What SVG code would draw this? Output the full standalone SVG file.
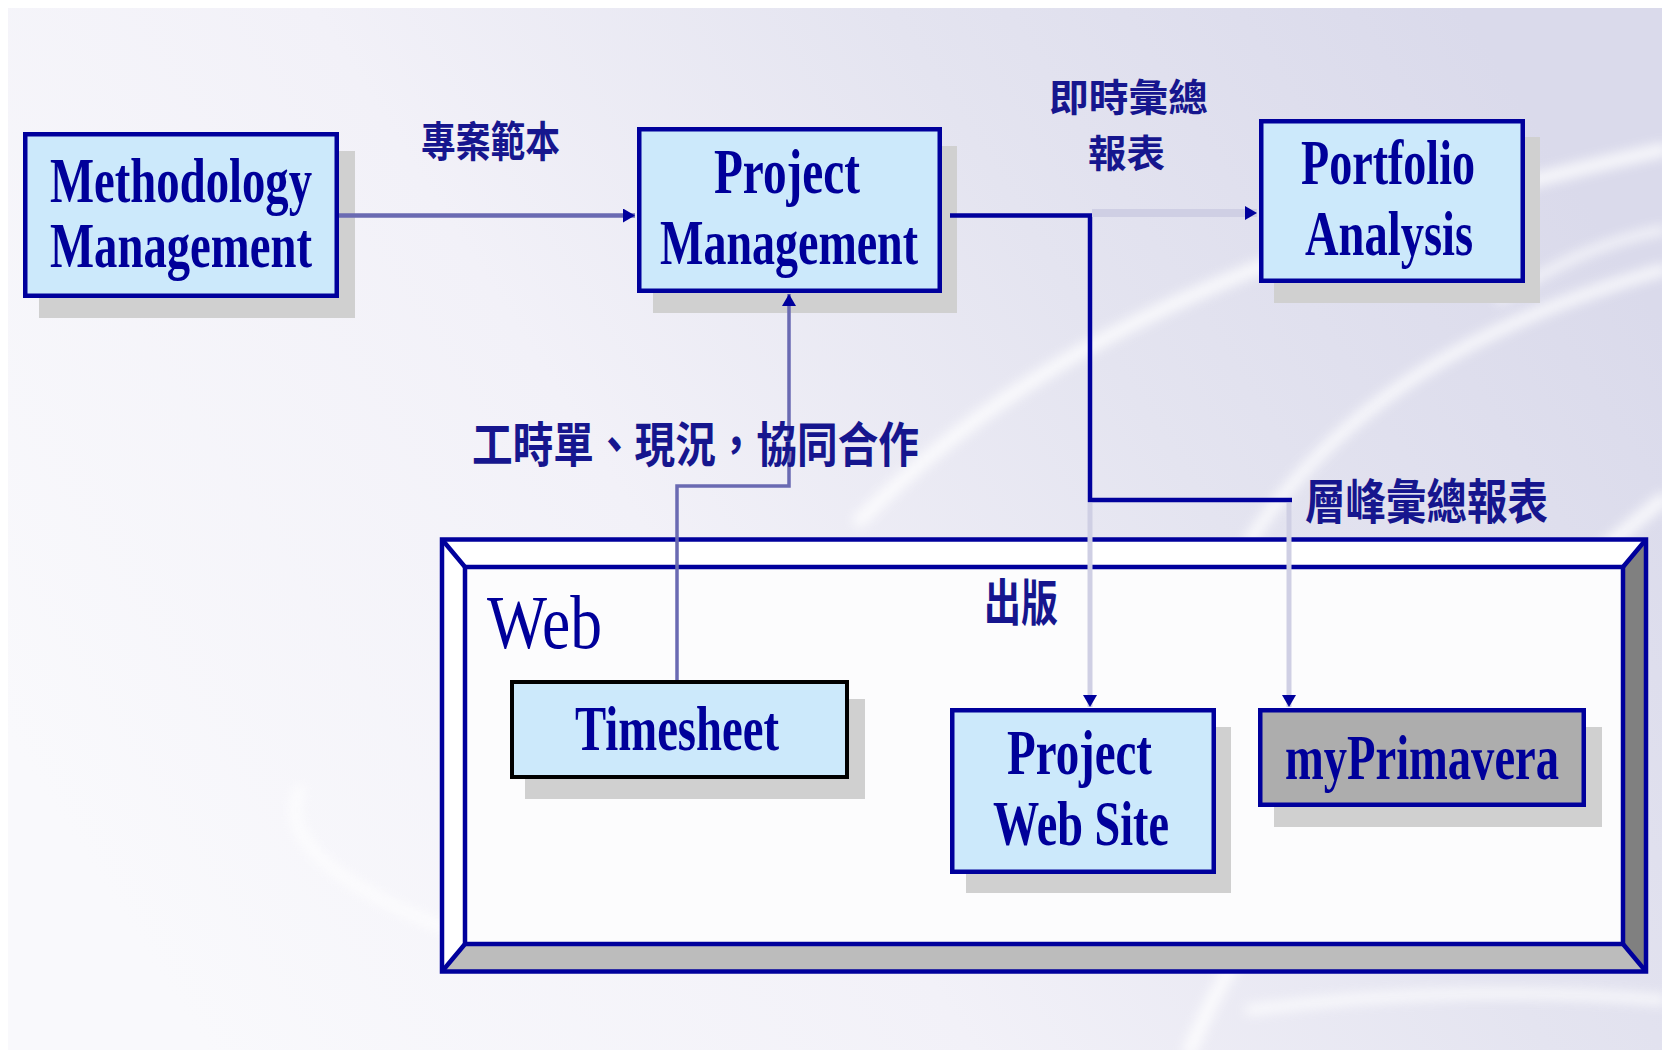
<svg xmlns="http://www.w3.org/2000/svg" width="1662" height="1050" viewBox="0 0 1662 1050">
<defs>
<linearGradient id="bg" x1="0" y1="0.7" x2="1" y2="0.3">
<stop offset="0" stop-color="#f9f9fc"/>
<stop offset="0.4" stop-color="#f2f1f8"/>
<stop offset="0.7" stop-color="#e4e4f0"/>
<stop offset="1" stop-color="#dadaeb"/>
</linearGradient>
<filter id="blur" x="-20%" y="-20%" width="140%" height="140%"><feGaussianBlur stdDeviation="6"/></filter>
<marker id="ah" viewBox="0 0 12 14" refX="12" refY="7" markerWidth="12" markerHeight="14" markerUnits="userSpaceOnUse" orient="auto">
<path d="M0,0 L12,7 L0,14 Z" fill="#00009c"/>
</marker>
<style>
.shadow{fill:#d0d0d0}
.box{fill:#cce9fb;stroke:#00009c;stroke-width:4.5}
.lbl{font-family:"Liberation Serif","Times New Roman",serif;font-weight:bold;font-size:63px;fill:#00009a}
.cjk{font-family:"Noto Sans CJK TC","Noto Sans CJK SC",sans-serif;font-weight:bold;fill:#16168e;dominant-baseline:central}
.dark{fill:none;stroke:#00009c;stroke-width:4.5}
.mid{fill:none;stroke:#6a6ab2}
.light{fill:none;stroke:#cfcfe4}
.frame{fill:none;stroke:#00009c;stroke-width:4.5}
.swoosh{fill:none;stroke:#ffffff;stroke-linecap:round}
</style>
</defs>

<g id="background">
<rect x="0" y="0" width="1662" height="1050" fill="#ffffff"/>
<rect x="8" y="8" width="1654" height="1042" fill="url(#bg)"/>
<g filter="url(#blur)" opacity="0.8">
<path class="swoosh" d="M860,520 C1000,380 1200,250 1662,150" stroke-width="14"/>
<path class="swoosh" d="M1250,540 C1330,420 1450,330 1662,270" stroke-width="12"/>
<path class="swoosh" d="M1190,1050 C1260,880 1420,700 1662,500" stroke-width="14"/>
<path class="swoosh" d="M1500,300 C1560,260 1610,240 1662,230" stroke-width="8"/>
<path class="swoosh" d="M1250,1010 C1400,990 1550,990 1662,1000" stroke-width="10"/>
<path class="swoosh" d="M300,790 C280,830 320,880 450,930" stroke-width="10"/>
</g>
</g>

<g id="web-frame">
<rect x="465" y="567" width="1158" height="377" fill="#fcfcfd"/>
<polygon points="442,539.5 1646,539.5 1623,567 465,567" fill="#ffffff"/>
<polygon points="442,539.5 465,567 465,944 442,971.5" fill="#ffffff"/>
<polygon points="1646,539.5 1646,971.5 1623,944 1623,567" fill="#808080"/>
<polygon points="442,971.5 1646,971.5 1623,944 465,944" fill="#bcbcbc"/>
<rect class="frame" x="442" y="539.5" width="1204" height="432"/>
<rect class="frame" x="465" y="567" width="1158" height="377"/>
<path class="frame" d="M442,539.5 L465,567 M1646,539.5 L1623,567 M442,971.5 L465,944 M1646,971.5 L1623,944"/>
<text x="487" y="648" font-family="Liberation Serif, Times New Roman, serif" font-size="76" fill="#00009a" textLength="115" lengthAdjust="spacingAndGlyphs">Web</text>
</g>

<g id="methodology-management">
<rect class="shadow" x="39" y="151" width="316" height="167"/>
<rect class="box" x="25.25" y="134.25" width="311.5" height="161.5"/>
<text class="lbl" x="50" y="202" textLength="262" lengthAdjust="spacingAndGlyphs">Methodology</text>
<text class="lbl" x="50" y="267" textLength="262" lengthAdjust="spacingAndGlyphs">Management</text>
</g>

<g id="project-management">
<rect class="shadow" x="653" y="146" width="304" height="167"/>
<rect class="box" x="639.25" y="129.25" width="300.5" height="161.5"/>
<text class="lbl" x="714" y="193" textLength="146" lengthAdjust="spacingAndGlyphs">Project</text>
<text class="lbl" x="660" y="264" textLength="258" lengthAdjust="spacingAndGlyphs">Management</text>
</g>

<g id="portfolio-analysis">
<rect class="shadow" x="1274" y="137" width="266" height="166"/>
<rect class="box" x="1261.25" y="121.25" width="261.5" height="159.5"/>
<text class="lbl" x="1301" y="184" textLength="174" lengthAdjust="spacingAndGlyphs">Portfolio</text>
<text class="lbl" x="1305" y="255" textLength="168" lengthAdjust="spacingAndGlyphs">Analysis</text>
</g>

<g id="timesheet">
<rect class="shadow" x="525" y="699" width="340" height="100"/>
<rect x="512" y="682" width="335" height="95" fill="#cce9fb" stroke="#000000" stroke-width="4"/>
<text class="lbl" x="575" y="750" textLength="204" lengthAdjust="spacingAndGlyphs">Timesheet</text>
</g>

<g id="project-web-site">
<rect class="shadow" x="966" y="727" width="265" height="166"/>
<rect class="box" x="952.25" y="710.25" width="261.5" height="161.5"/>
<text class="lbl" x="1007" y="774" textLength="145" lengthAdjust="spacingAndGlyphs">Project</text>
<text class="lbl" x="993" y="845" textLength="176" lengthAdjust="spacingAndGlyphs">Web Site</text>
</g>

<g id="myprimavera">
<rect class="shadow" x="1274" y="727" width="328" height="100"/>
<rect x="1260.25" y="710.25" width="323.5" height="94.5" fill="#adadad" stroke="#00009c" stroke-width="4.5"/>
<text class="lbl" x="1285" y="779" textLength="274" lengthAdjust="spacingAndGlyphs">myPrimavera</text>
</g>

<g id="connectors">
<line class="mid" x1="339" y1="215.5" x2="635" y2="215.5" stroke-width="4.5" marker-end="url(#ah)"/>
<polyline class="dark" points="950,215.5 1090,215.5 1090,500 1292,500"/>
<line class="light" x1="1092" y1="213" x2="1257" y2="213" stroke-width="8" marker-end="url(#ah)"/>
<line class="light" x1="1090" y1="503" x2="1090" y2="707" stroke-width="5" marker-end="url(#ah)"/>
<line class="light" x1="1289" y1="503" x2="1289" y2="707" stroke-width="5" marker-end="url(#ah)"/>
<polyline class="mid" points="677,680 677,486 789,486 789,294" stroke-width="3.5" marker-end="url(#ah)"/>
</g>

<g id="labels">
<text class="cjk" x="421" y="138" font-size="42" textLength="139" lengthAdjust="spacingAndGlyphs">專案範本</text>
<text class="cjk" font-size="38"><tspan x="1049" y="94" textLength="159" lengthAdjust="spacingAndGlyphs">即時彙總</tspan><tspan x="1088" y="150" textLength="77" lengthAdjust="spacingAndGlyphs">報表</tspan></text>
<text class="cjk" x="472" y="441" font-size="48" textLength="447" lengthAdjust="spacingAndGlyphs">工時單、現況，協同合作</text>
<text class="cjk" x="1305" y="498" font-size="48" textLength="243" lengthAdjust="spacingAndGlyphs">層峰彙總報表</text>
<text class="cjk" x="984" y="599" font-size="50" font-weight="500" textLength="74" lengthAdjust="spacingAndGlyphs">出版</text>
</g>
</svg>
